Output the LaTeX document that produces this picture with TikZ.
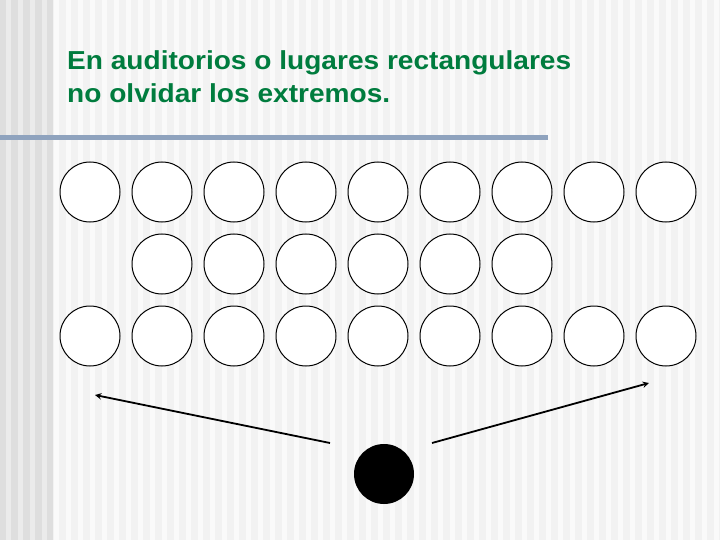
\documentclass[tikz,border=0pt]{standalone}
\usepackage{fontspec}
\setmainfont{Liberation Sans}
\newfontfamily\titlefont[FakeStretch=1.08]{Liberation Sans}
\usepackage{xcolor}
\definecolor{titlegreen}{RGB}{0,124,62}
\definecolor{barblue}{RGB}{143,163,190}
\tikzset{
  seat/.style={circle,draw=black,fill=white,minimum size=60pt,inner sep=0pt,line width=1pt},
  speaker/.style={circle,fill=black,minimum size=60pt,inner sep=0pt},
  look/.style={line width=1.8pt,-stealth}
}

\begin{document}
\begin{tikzpicture}[x=1pt,y=-1pt]
			\useasboundingbox (0,0) rectangle (720,540);
			% fondo con rayas
			\fill[black!5] (0,0) rectangle (720,540);
			\foreach \s in {0,12,...,708}
				\fill[white!60!black!5] (\s+6,0) rectangle (\s+11,540);
			\fill[black!13] (0,0) rectangle (53,540);
			\foreach \s in {0,12,24,36}
				\fill[black!8] (\s+6,0) rectangle (\s+11,540);
			% titulo
			\node[anchor=base west,align=left,text=titlegreen,font=\titlefont\fontsize{26}{33}\selectfont\bfseries,inner sep=0pt] (titulo) at (67,103)
				{En auditorios o lugares rectangulares\\no olvidar los extremos.};
			\fill[barblue] (0,135) rectangle (548,140.5);
			% asientos
			\foreach \i in {1,...,9} {
				\node[seat] (a\i) at (18+72*\i,192) {};
				\node[seat] (c\i) at (18+72*\i,336) {};
			}
			\foreach \i in {2,...,7}
				\node[seat] (b\i) at (18+72*\i,264) {};
			% orador
			\node[speaker] (orador) at (384,474) {};
			\coordinate (izq0) at (330,443);
			\coordinate (izq1) at (95,395);
			\coordinate (der0) at (432,443);
			\coordinate (der1) at (649,383);
			\draw[look] (izq0) -- (izq1);
			\draw[look] (der0) -- (der1);
		\end{tikzpicture}
\end{document}
